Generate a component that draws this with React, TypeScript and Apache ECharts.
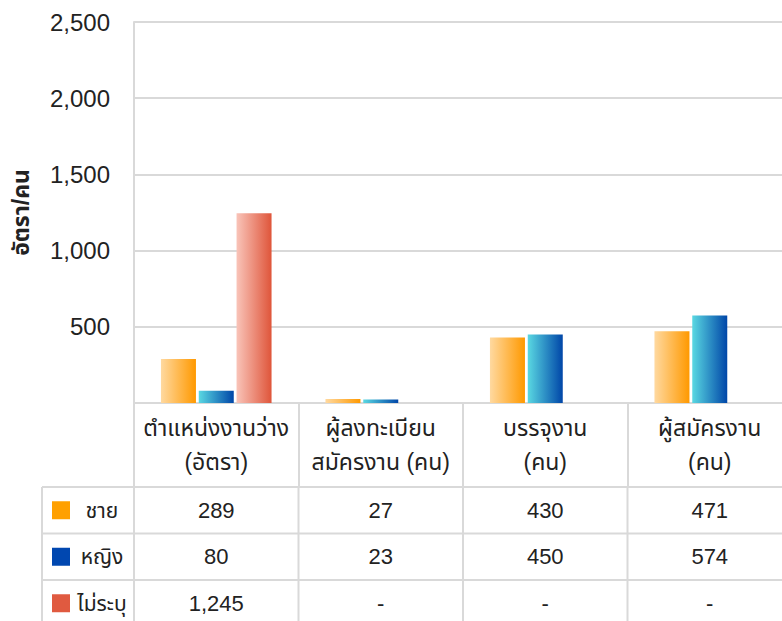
import React, { useEffect, useRef } from 'react';
import * as echarts from 'echarts';

const categories = ['ตำแหน่งงานว่าง\n(อัตรา)', 'ผู้ลงทะเบียน\nสมัครงาน (คน)', 'บรรจุงาน\n(คน)', 'ผู้สมัครงาน\n(คน)'];
const seriesNames = ['ชาย', 'หญิง', 'ไม่ระบุ'];
const maleValues: (number | null)[] = [289, 27, 430, 471];
const femaleValues: (number | null)[] = [80, 23, 450, 574];
const unspecifiedValues: (number | null)[] = [1245, null, null, null];
const yAxisName = 'อัตรา/คน';
const yMin = 0;
const yMax = 2500;
const yInterval = 500;

const FONT = '"Liberation Sans", Arial, "Noto Sans Thai", "Noto Sans", sans-serif';
const LINE = '#d9d9d9';
const TEXT = '#222';

const W = 792;
const H = 621;
const GRID_LEFT = 134;
const GRID_TOP = 22;
const PLOT_BOTTOM = 403;
const HEADER_BOTTOM = 487;
const ROW_H = 46.5;
const LEGEND_LEFT = 42;

const solidColors = ['#ffa000', '#0047b0', '#e05a40'];
const gradients = [
  ['#ffd9a0', '#ff9900'],
  ['#5ad8e2', '#0046a8'],
  ['#f9c4b9', '#df553a'],
];

export default function App() {
  const ref = useRef<HTMLDivElement>(null);
  useEffect(() => {
    const chart = echarts.init(ref.current!, null, { renderer: 'svg' });
    const allSeries = [maleValues, femaleValues, unspecifiedValues];
    const n = categories.length;
    const colW = (W - GRID_LEFT) / n;
    const graphic: any[] = [];
    const rowTops = allSeries.map((_, i) => HEADER_BOTTOM + i * ROW_H);
    rowTops.forEach((y) => {
      graphic.push({ type: 'line', shape: { x1: LEGEND_LEFT, y1: y, x2: W, y2: y }, style: { stroke: LINE, lineWidth: 2 } });
    });
    graphic.push({ type: 'line', shape: { x1: LEGEND_LEFT, y1: HEADER_BOTTOM, x2: LEGEND_LEFT, y2: H + 10 }, style: { stroke: LINE, lineWidth: 2 } });
    for (let i = 0; i <= n; i++) {
      const x = GRID_LEFT + i * colW;
      graphic.push({ type: 'line', shape: { x1: x, y1: HEADER_BOTTOM, x2: x, y2: H + 10 }, style: { stroke: LINE, lineWidth: 2 } });
    }
    allSeries.forEach((vals, r) => {
      const cy = rowTops[r] + ROW_H / 2;
      graphic.push({ type: 'rect', shape: { x: 52, y: cy - 9, width: 18, height: 18 }, style: { fill: solidColors[r] } });
      graphic.push({ type: 'text', x: 102, y: cy, style: { text: seriesNames[r], align: 'center', verticalAlign: 'middle', fontSize: 21, fontFamily: FONT, fill: TEXT } });
      vals.forEach((v, c) => {
        graphic.push({
          type: 'text', x: GRID_LEFT + colW * (c + 0.5), y: cy,
          style: { text: v == null ? '-' : v.toLocaleString('en-US'), align: 'center', verticalAlign: 'middle', fontSize: 22, fontFamily: FONT, fill: TEXT },
        });
      });
    });

    chart.setOption({
      animation: false,
      grid: { left: GRID_LEFT, top: GRID_TOP, right: 0, bottom: H - PLOT_BOTTOM, containLabel: false },
      xAxis: {
        type: 'category',
        data: categories,
        axisLine: { show: true, lineStyle: { color: LINE, width: 2 } },
        axisTick: { show: true, length: HEADER_BOTTOM - PLOT_BOTTOM, lineStyle: { color: LINE, width: 2 } },
        axisLabel: { interval: 0, fontSize: 23, lineHeight: 34, margin: 8, color: TEXT, fontFamily: FONT },
      },
      yAxis: {
        type: 'value',
        min: yMin,
        max: yMax,
        interval: yInterval,
        name: yAxisName,
        nameLocation: 'middle',
        nameRotate: 90,
        nameGap: 102,
        nameTextStyle: { fontSize: 23, fontWeight: 'bold', color: TEXT, fontFamily: FONT },
        axisLine: { show: true, lineStyle: { color: LINE, width: 2 } },
        axisTick: { show: false },
        splitLine: { lineStyle: { color: LINE, width: 2 } },
        axisLabel: {
          fontSize: 24, color: TEXT, margin: 24, fontFamily: FONT,
          formatter: (v: number) => (v === 0 ? '' : v.toLocaleString('en-US')),
        },
      },
      series: allSeries.map((vals, i) => ({
        type: 'bar',
        name: seriesNames[i],
        data: vals,
        barWidth: 35,
        barGap: '8%',
        itemStyle: {
          color: new echarts.graphic.LinearGradient(0, 0, 1, 0, [
            { offset: 0, color: gradients[i][0] },
            { offset: 1, color: gradients[i][1] },
          ]),
        },
      })),
      graphic,
    });
    return () => chart.dispose();
  }, []);
  return <div ref={ref} style={{ position: 'fixed', left: 0, top: 0, width: W, height: H, background: '#fff' }} />;
}
